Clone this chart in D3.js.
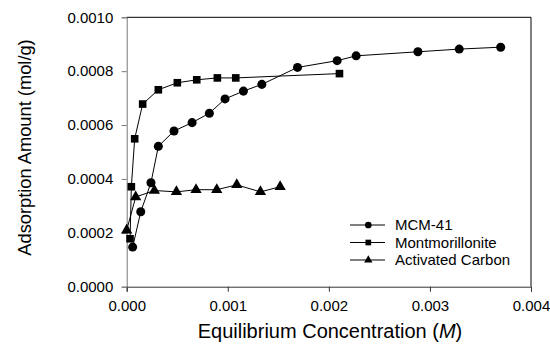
<!DOCTYPE html>
<html>
<head>
<meta charset="utf-8">
<script src="https://cdn.jsdelivr.net/npm/d3@7"></script>
<style>
  body { margin: 0; background: #fff; }
  text { font-family: "Liberation Sans", Arial, sans-serif; }
</style>
</head>
<body>
<svg id="chart"></svg>
<script>
// 데이터
const mcmX = [0.000059, 0.000139, 0.00024, 0.000313, 0.000468, 0.000647, 0.000818, 0.000973, 0.001155, 0.001337, 0.00169, 0.002082, 0.00227, 0.002881, 0.00329, 0.0037];
const mcmY = [0.000147, 0.000278, 0.000386, 0.000521, 0.000578, 0.000609, 0.000644, 0.000697, 0.000726, 0.000751, 0.000814, 0.000839, 0.000857, 0.000872, 0.000882, 0.000889];

const montX = [0.000033, 0.000046, 0.000079, 0.000158, 0.000313, 0.000501, 0.000693, 0.000897, 0.001079, 0.002105];
const montY = [0.000178, 0.000371, 0.000549, 0.000678, 0.000731, 0.000757, 0.000768, 0.000775, 0.000775, 0.000791];

const acX = [0.0, 0.000089, 0.000274, 0.000492, 0.000686, 0.000891, 0.001089, 0.001323, 0.001518];
const acY = [0.00021, 0.000333, 0.000357, 0.000352, 0.00036, 0.00036, 0.000378, 0.000352, 0.000371];

const seriesNames = ["MCM-41", "Montmorillonite", "Activated Carbon"];
const xTicks = [0, 0.001, 0.002, 0.003, 0.004];
const yTicks = [0, 0.0002, 0.0004, 0.0006, 0.0008, 0.001];

const W = 550, H = 345;
const margin = { top: 17.3, right: 19, bottom: 58.3, left: 126.7 };
const width = W - margin.left - margin.right;
const height = H - margin.top - margin.bottom;

const svg = d3.select("#chart")
    .attr("width", W)
    .attr("height", H)
    .append("g")
    .attr("transform", `translate(${margin.left},${margin.top})`);

const x = d3.scaleLinear().domain([0, 0.004]).range([0, width]);
const y = d3.scaleLinear().domain([0, 0.001]).range([height, 0]);

// 프레임 (위, 오른쪽)
svg.append("line").attr("x1", 0).attr("x2", width).attr("y1", 0).attr("y2", 0)
    .attr("stroke", "#000").attr("stroke-width", 1);
svg.append("line").attr("x1", width).attr("x2", width).attr("y1", 0).attr("y2", height)
    .attr("stroke", "#000").attr("stroke-width", 1);

// 축
const xAxis = svg.append("g")
    .attr("transform", `translate(0,${height})`)
    .call(d3.axisBottom(x).tickValues(xTicks).tickFormat(d3.format(".3f")).tickSize(5).tickPadding(9));
const yAxis = svg.append("g")
    .call(d3.axisLeft(y).tickValues(yTicks).tickFormat(d3.format(".4f")).tickSize(5).tickPadding(8.4));

xAxis.select(".domain").attr("stroke", "#333");
xAxis.selectAll(".tick line").attr("stroke", "#333");
yAxis.select(".domain").attr("stroke", "#777");
yAxis.selectAll(".tick line").attr("stroke", "#777");
[xAxis, yAxis].forEach(a => {
    a.selectAll("text").attr("font-size", 15).attr("fill", "#000")
        .attr("font-family", "'Liberation Sans', Arial, sans-serif");
});

// 축 제목
const xTitle = svg.append("text")
    .attr("x", 330 - margin.left)
    .attr("y", 338.3 - margin.top)
    .attr("text-anchor", "middle")
    .attr("font-size", 20);
xTitle.append("tspan").text("Equilibrium Concentration (");
xTitle.append("tspan").attr("font-style", "italic").text("M");
xTitle.append("tspan").text(")");

svg.append("text")
    .attr("transform", `translate(${31 - margin.left},${147.5 - margin.top}) rotate(-90)`)
    .attr("text-anchor", "middle")
    .attr("font-size", 18.3)
    .text("Adsorption Amount (mol/g)");

// 라인 + 마커
const seriesList = [
    { xs: mcmX, ys: mcmY, shape: d3.symbolCircle, size: 64 },
    { xs: montX, ys: montY, shape: d3.symbolSquare, size: 58 },
    { xs: acX, ys: acY, shape: d3.symbolTriangle, size: 55 }
];

const line = d3.line().x(d => x(d[0])).y(d => y(d[1]));

seriesList.forEach(s => {
    const pts = s.xs.map((v, i) => [v, s.ys[i]]);
    svg.append("path")
        .datum(pts)
        .attr("d", line)
        .attr("fill", "none")
        .attr("stroke", "#000")
        .attr("stroke-width", 1);
    svg.selectAll(null)
        .data(pts)
        .enter().append("path")
        .attr("transform", d => `translate(${x(d[0])},${y(d[1])})`)
        .attr("d", d3.symbol().type(s.shape).size(s.size))
        .attr("fill", "#000");
});

// 범례
const legend = svg.selectAll(".legend")
    .data(seriesList)
    .enter().append("g")
    .attr("class", "legend")
    .attr("transform", (d, i) => `translate(${350 - margin.left},${225 - margin.top + i * 17.5})`);

legend.append("line")
    .attr("x1", 0).attr("x2", 35)
    .attr("stroke", "#000").attr("stroke-width", 1);
legend.append("path")
    .attr("transform", "translate(18.3,0)")
    .attr("d", d => d3.symbol().type(d.shape).size(d.size * 0.55)())
    .attr("fill", "#000");
legend.append("text")
    .attr("x", 45)
    .attr("dy", "0.35em")
    .attr("font-size", 15)
    .text((d, i) => seriesNames[i]);
</script>
</body>
</html>
